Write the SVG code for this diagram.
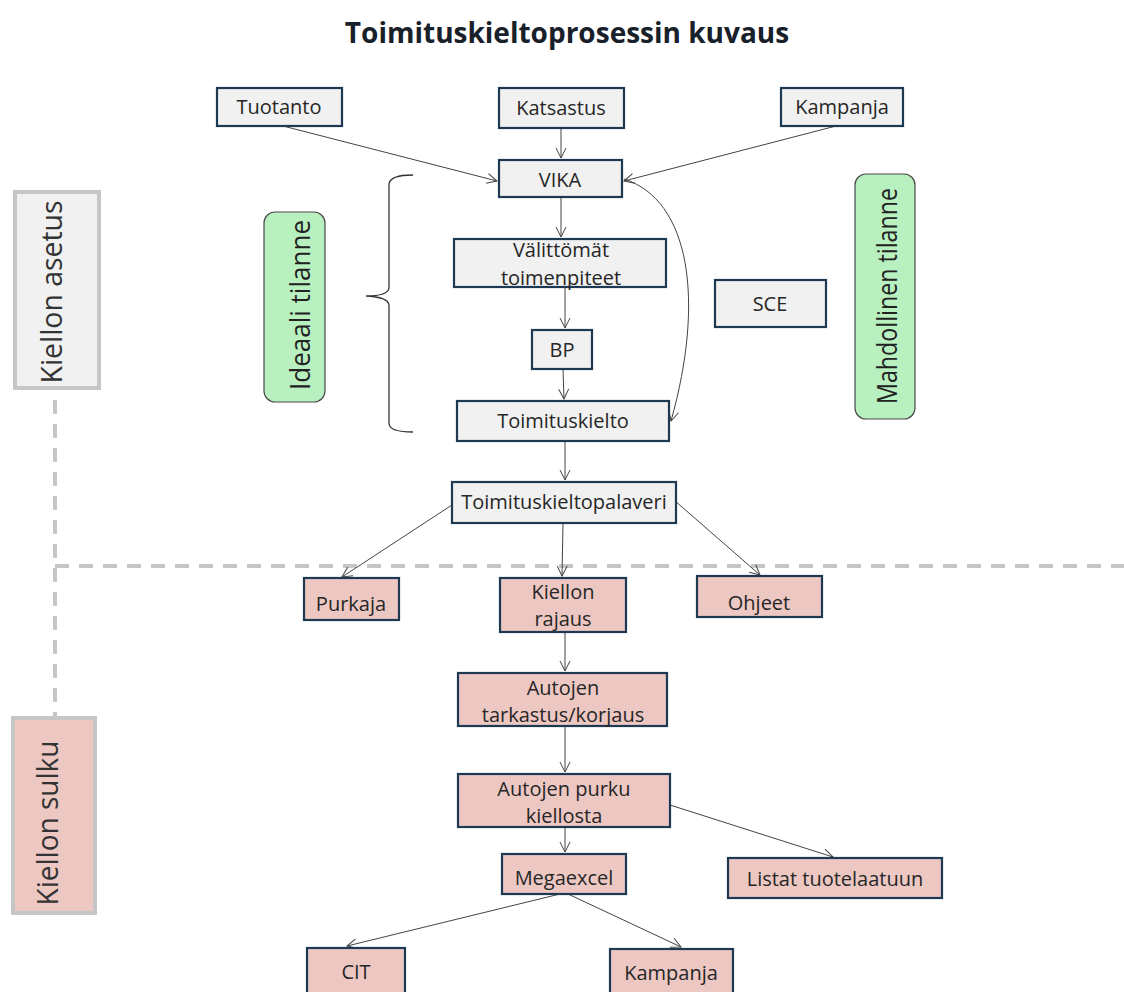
<svg xmlns="http://www.w3.org/2000/svg" width="1124" height="992" viewBox="0 0 1124 992">
  <defs>
    <marker id="arrow" viewBox="0 0 12 12" refX="11" refY="6" markerWidth="12" markerHeight="12" markerUnits="userSpaceOnUse" orient="auto">
      <path d="M1,1 L11,6 L1,11" fill="none" stroke="#444" stroke-width="1"/>
    </marker>
  </defs>
  <style>
    text { font-family: "Open Sans", "Liberation Sans", sans-serif; fill: #262626; text-anchor: middle; }
    .title { font-size: 28px; font-weight: bold; fill: #18202a; }
    .lbl { font-size: 20px; }
    .side { font-size: 30px; fill: #333; }
    .note { font-size: 27px; fill: #222; }
    .box { stroke: #1d3a52; stroke-width: 2.2; }
    .grey { fill: #f1f1f1; }
    .pink { fill: #edc8c3; }
    .green { fill: #b8f1bf; stroke: #4a4a4a; stroke-width: 1.2; }
    .lane { stroke: #c6c6c6; stroke-width: 4; }
    .divider { stroke: #c6c6c6; stroke-width: 4; stroke-dasharray: 14 10; fill: none; }
    .conn { stroke: #444; stroke-width: 1; fill: none; marker-end: url(#arrow); }
  </style>

  <rect width="1124" height="992" fill="#ffffff"/>

  <text class="title" x="567" y="43">Toimituskieltoprosessin kuvaus</text>

  <!-- phase dividers -->
  <g id="dividers">
    <line class="divider" x1="55" y1="400" x2="55" y2="716"/>
    <line class="divider" x1="55" y1="566" x2="1124" y2="566"/>
  </g>

  <!-- phase labels -->
  <g id="phase-asetus">
    <rect class="lane grey" x="15" y="192" width="84" height="196"/>
    <text class="side" transform="translate(62,292) rotate(-90)" textLength="183" lengthAdjust="spacingAndGlyphs">Kiellon asetus</text>
  </g>
  <g id="phase-sulku">
    <rect class="lane pink" x="13" y="718" width="82" height="195"/>
    <text class="side" transform="translate(58,823) rotate(-90)" textLength="165" lengthAdjust="spacingAndGlyphs">Kiellon sulku</text>
  </g>

  <!-- scenario notes -->
  <g id="note-ideaali">
    <rect class="green" x="264" y="212" width="61" height="190" rx="11"/>
    <text class="note" transform="translate(310,305) rotate(-90)" textLength="170" lengthAdjust="spacingAndGlyphs">Ideaali tilanne</text>
  </g>
  <g id="note-mahdollinen">
    <rect class="green" x="855" y="174" width="60" height="245" rx="11"/>
    <text class="note" transform="translate(897,296) rotate(-90)" textLength="216" lengthAdjust="spacingAndGlyphs">Mahdollinen tilanne</text>
  </g>

  <!-- brace grouping the ideal path -->
  <g id="brace">
    <path d="M413,175 Q390,175 389,184 L389,288 Q388,296 366,296 Q388,297 389,305 L389,424 Q390,432 413,432" fill="none" stroke="#333" stroke-width="1.3"/>
  </g>

  <!-- connectors -->
  <g id="connectors">
    <line class="conn" x1="283" y1="126" x2="497" y2="181"/>
    <line class="conn" x1="561" y1="128" x2="561" y2="158"/>
    <line class="conn" x1="836" y1="126" x2="624" y2="181"/>
    <line class="conn" x1="561" y1="197" x2="561" y2="237"/>
    <line class="conn" x1="565" y1="287" x2="565" y2="328"/>
    <line class="conn" x1="563" y1="369" x2="564" y2="399"/>
    <path class="conn" d="M624,179 C690,200 705,300 671,421"/>
    <line class="conn" x1="565" y1="441" x2="565" y2="480"/>
    <line class="conn" x1="455" y1="503" x2="342" y2="577"/>
    <line class="conn" x1="563" y1="523" x2="562" y2="576"/>
    <line class="conn" x1="674" y1="500" x2="760" y2="575"/>
    <line class="conn" x1="565" y1="632" x2="565" y2="671"/>
    <line class="conn" x1="565" y1="726" x2="565" y2="772"/>
    <line class="conn" x1="565" y1="827" x2="565" y2="852"/>
    <line class="conn" x1="670" y1="805" x2="833" y2="857"/>
    <line class="conn" x1="560" y1="894" x2="347" y2="946"/>
    <line class="conn" x1="568" y1="894" x2="681" y2="947"/>
  </g>

  <!-- process nodes -->
  <g id="tuotanto">
    <rect class="box grey" x="217" y="88" width="125" height="38"/>
    <text class="lbl" x="279" y="114">Tuotanto</text>
  </g>
  <g id="katsastus">
    <rect class="box grey" x="499" y="88" width="125" height="40"/>
    <text class="lbl" x="561" y="115">Katsastus</text>
  </g>
  <g id="kampanja-top">
    <rect class="box grey" x="781" y="88" width="122" height="38"/>
    <text class="lbl" x="842" y="114">Kampanja</text>
  </g>
  <g id="vika">
    <rect class="box grey" x="499" y="160" width="123" height="37"/>
    <text class="lbl" x="560" y="187">VIKA</text>
  </g>
  <g id="valittomat">
    <rect class="box grey" x="454" y="239" width="212" height="48"/>
    <text class="lbl" x="561" y="257">Välittömät</text>
    <text class="lbl" x="561" y="285">toimenpiteet</text>
  </g>
  <g id="bp">
    <rect class="box grey" x="532" y="330" width="60" height="39"/>
    <text class="lbl" x="562" y="357">BP</text>
  </g>
  <g id="toimituskielto">
    <rect class="box grey" x="457" y="401" width="212" height="40"/>
    <text class="lbl" x="563" y="428">Toimituskielto</text>
  </g>
  <g id="sce">
    <rect class="box grey" x="715" y="280" width="111" height="47"/>
    <text class="lbl" x="770" y="311">SCE</text>
  </g>
  <g id="palaveri">
    <rect class="box grey" x="452" y="482" width="224" height="41"/>
    <text class="lbl" x="564" y="509">Toimituskieltopalaveri</text>
  </g>
  <g id="purkaja">
    <rect class="box pink" x="304" y="578" width="95" height="42"/>
    <text class="lbl" x="351" y="611">Purkaja</text>
  </g>
  <g id="kiellon-rajaus">
    <rect class="box pink" x="500" y="578" width="126" height="54"/>
    <text class="lbl" x="563" y="599">Kiellon</text>
    <text class="lbl" x="563" y="626">rajaus</text>
  </g>
  <g id="ohjeet">
    <rect class="box pink" x="697" y="576" width="125" height="41"/>
    <text class="lbl" x="759" y="610">Ohjeet</text>
  </g>
  <g id="tarkastus">
    <rect class="box pink" x="458" y="673" width="209" height="53"/>
    <text class="lbl" x="563" y="695">Autojen</text>
    <text class="lbl" x="563" y="722">tarkastus/korjaus</text>
  </g>
  <g id="purku">
    <rect class="box pink" x="458" y="774" width="212" height="53"/>
    <text class="lbl" x="564" y="796">Autojen purku</text>
    <text class="lbl" x="564" y="823">kiellosta</text>
  </g>
  <g id="megaexcel">
    <rect class="box pink" x="502" y="854" width="124" height="40"/>
    <text class="lbl" x="564" y="885">Megaexcel</text>
  </g>
  <g id="listat">
    <rect class="box pink" x="728" y="858" width="214" height="40"/>
    <text class="lbl" x="835" y="886">Listat tuotelaatuun</text>
  </g>
  <g id="cit">
    <rect class="box pink" x="307" y="948" width="98" height="50"/>
    <text class="lbl" x="356" y="979">CIT</text>
  </g>
  <g id="kampanja-bottom">
    <rect class="box pink" x="610" y="949" width="123" height="50"/>
    <text class="lbl" x="671" y="980">Kampanja</text>
  </g>
</svg>
